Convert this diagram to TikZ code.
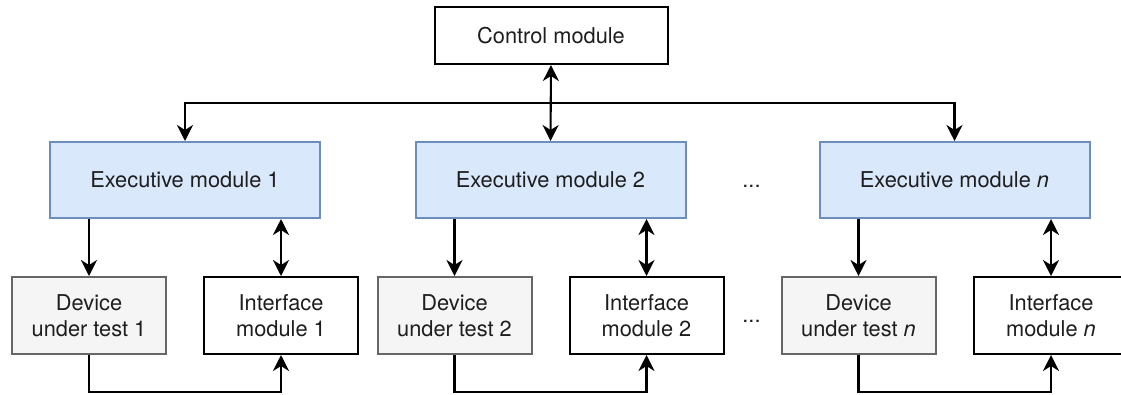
\documentclass[tikz,border=0pt]{standalone}
\usepackage{fontspec}
\setmainfont{TeX Gyre Heros}
\usetikzlibrary{arrows.meta}
\definecolor{exfill}{HTML}{DAE8FC}
\definecolor{exline}{HTML}{6C8EBF}
\definecolor{dutfill}{HTML}{F5F5F5}
\definecolor{dutline}{HTML}{666666}
\definecolor{txt}{HTML}{1E1E1E}
\begin{document}
\begin{tikzpicture}[x=1pt,y=-1pt,
  every node/.style={font=\fontsize{21.8}{25.5}\selectfont, text=txt, align=center, inner sep=0pt},
  box/.style={draw=black, line width=2pt, fill=white},
  ctrlbox/.style={box, minimum width=233pt, minimum height=57pt},
  exbox/.style={box, draw=exline, fill=exfill, minimum width=270pt, minimum height=76pt},
  dutbox/.style={box, draw=dutline, fill=dutfill, minimum width=154pt, minimum height=77pt},
  ifbox/.style={box, minimum width=154pt, minimum height=77pt},
  link/.style={line width=2.1pt, draw=black, -{Stealth[length=16pt,width=16pt,inset=5pt]}},
  blink/.style={link, {Stealth[length=16pt,width=16pt,inset=5pt]}-{Stealth[length=16pt,width=16pt,inset=5pt]}},
  dots/.style={anchor=base}
]
\useasboundingbox (0,0) rectangle (1121,394);

% control level
\node[ctrlbox] (ctrl) at (551,35.5) {Control module};

% executive modules
\node[exbox] (ex1) at (185,180) {Executive module 1};
\node[exbox] (ex2) at (550.5,180) {Executive module 2};
\node[exbox] (exn) at (954.5,180) {Executive module \textit{n}};
\node[dots] (dotsA) at (751.5,187.5) {...};

% devices and interfaces
\node[dutbox] (dut1) at (89,315.5) {Device\\under test 1};
\node[ifbox] (if1) at (281,315.5) {Interface\\module 1};
\node[dutbox] (dut2) at (454.5,315.5) {Device\\under test 2};
\node[ifbox] (if2) at (646.5,315.5) {Interface\\module 2};
\node[dots] (dotsB) at (751.5,322.5) {...};
\node[dutbox] (dutn) at (858.5,315.5) {Device\\under test \textit{n}};
\node[ifbox] (ifn) at (1051,315.5) {Interface\\module \textit{n}};

% control bus
\coordinate (bus) at (551,103);
\draw[blink] (ctrl.south) -- (ex2.north);
\draw[link] (bus) -| (ex1.north);
\draw[link] (bus) -| (exn.north);

% executive to device / interface
\draw[link] (dut1.north |- ex1.south) -- (dut1.north);
\draw[blink] (if1.north |- ex1.south) -- (if1.north);
\draw[link] (dut2.north |- ex2.south) -- (dut2.north);
\draw[blink] (if2.north |- ex2.south) -- (if2.north);
\draw[link] (dutn.north |- exn.south) -- (dutn.north);
\draw[blink] (ifn.north |- exn.south) -- (ifn.north);

% device back to interface
\draw[link] (dut1.south) -- ++(0,37) -| (if1.south);
\draw[link] (dut2.south) -- ++(0,37) -| (if2.south);
\draw[link] (dutn.south) -- ++(0,37) -| (ifn.south);
\end{tikzpicture}
\end{document}
